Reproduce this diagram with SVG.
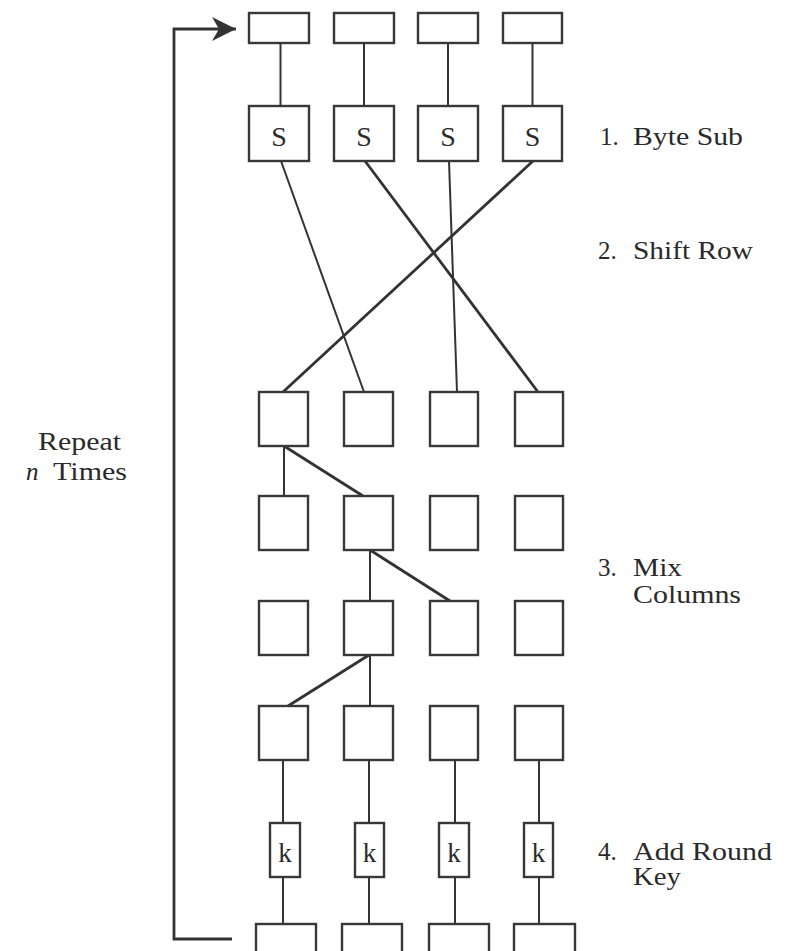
<svg xmlns="http://www.w3.org/2000/svg" width="788" height="951" viewBox="0 0 788 951">
<style>
.box{fill:#fff;stroke:#383838;stroke-width:2.4}
.ln{stroke:#333;stroke-width:2;fill:none}
.lt{stroke:#333;stroke-width:2.8;fill:none}
.lbl{font-family:"Liberation Serif","Times New Roman",serif;font-size:25px;fill:#2a2a2a}
.s{font-family:"Liberation Serif","Times New Roman",serif;font-size:28px;fill:#2a2a2a;text-anchor:middle}
.k{font-family:"Liberation Serif","Times New Roman",serif;font-size:27px;fill:#2a2a2a;text-anchor:middle}
</style>
<defs>
<marker id="arr" markerWidth="26" markerHeight="24" refX="24" refY="12" orient="auto" markerUnits="userSpaceOnUse">
<path d="M0,0 L24,12 L0,24 L7,12 Z" fill="#333"/>
</marker>
</defs>
<rect width="788" height="951" fill="#fff"/>

<g id="connectors">
<!-- loop back -->
<polyline class="lt" points="232,939 174,939 174,29 236,29" marker-end="url(#arr)"/>
<!-- top to S -->
<line class="ln" x1="280.5" y1="43" x2="280.5" y2="106"/>
<line class="ln" x1="364" y1="43" x2="364" y2="106"/>
<line class="ln" x1="448" y1="43" x2="448" y2="106"/>
<line class="ln" x1="532.5" y1="43" x2="532.5" y2="106"/>
<!-- shift row -->
<line class="ln" x1="281" y1="161" x2="364" y2="392"/>
<line class="lt" x1="365" y1="161" x2="538" y2="392"/>
<line class="ln" x1="449" y1="161" x2="457" y2="392"/>
<line class="lt" x1="533" y1="161" x2="283" y2="392"/>
<!-- mix columns -->
<line class="ln" x1="284" y1="446" x2="284" y2="496"/>
<line class="lt" x1="284" y1="446" x2="363" y2="496"/>
<line class="ln" x1="370" y1="550" x2="370" y2="601"/>
<line class="lt" x1="370" y1="550" x2="450" y2="601"/>
<line class="lt" x1="369" y1="655" x2="288" y2="706"/>
<line class="ln" x1="370" y1="655" x2="370" y2="706"/>
<!-- to k -->
<line class="ln" x1="283" y1="760" x2="283" y2="823"/>
<line class="ln" x1="369" y1="760" x2="369" y2="823"/>
<line class="ln" x1="455" y1="760" x2="455" y2="823"/>
<line class="ln" x1="539" y1="760" x2="539" y2="823"/>
<!-- k to bottom -->
<line class="ln" x1="283" y1="877" x2="283" y2="924"/>
<line class="ln" x1="369" y1="877" x2="369" y2="924"/>
<line class="ln" x1="455" y1="877" x2="455" y2="924"/>
<line class="ln" x1="539" y1="877" x2="539" y2="924"/>
</g>

<g id="top-row">
<rect id="t1" class="box" x="249" y="13" width="60" height="30"/>
<rect id="t2" class="box" x="334" y="13" width="60" height="30"/>
<rect id="t3" class="box" x="418" y="13" width="60" height="30"/>
<rect id="t4" class="box" x="503" y="13" width="59" height="30"/>
</g>

<g id="s-row">
<g id="s1"><rect class="box" x="249" y="106" width="60" height="55"/><text class="s" x="279" y="146">S</text></g>
<g id="s2"><rect class="box" x="334" y="106" width="60" height="55"/><text class="s" x="364" y="146">S</text></g>
<g id="s3"><rect class="box" x="418" y="106" width="60" height="55"/><text class="s" x="448" y="146">S</text></g>
<g id="s4"><rect class="box" x="503" y="106" width="59" height="55"/><text class="s" x="532.5" y="146">S</text></g>
</g>

<g id="row3">
<rect id="r3c1" class="box" x="259" y="392" width="49" height="54"/>
<rect id="r3c2" class="box" x="344" y="392" width="49" height="54"/>
<rect id="r3c3" class="box" x="430" y="392" width="48" height="54"/>
<rect id="r3c4" class="box" x="515" y="392" width="48" height="54"/>
</g>
<g id="row4">
<rect id="r4c1" class="box" x="259" y="496" width="49" height="54"/>
<rect id="r4c2" class="box" x="344" y="496" width="49" height="54"/>
<rect id="r4c3" class="box" x="430" y="496" width="48" height="54"/>
<rect id="r4c4" class="box" x="515" y="496" width="48" height="54"/>
</g>
<g id="row5">
<rect id="r5c1" class="box" x="259" y="601" width="49" height="54"/>
<rect id="r5c2" class="box" x="344" y="601" width="49" height="54"/>
<rect id="r5c3" class="box" x="430" y="601" width="48" height="54"/>
<rect id="r5c4" class="box" x="515" y="601" width="48" height="54"/>
</g>
<g id="row6">
<rect id="r6c1" class="box" x="259" y="706" width="49" height="54"/>
<rect id="r6c2" class="box" x="344" y="706" width="49" height="54"/>
<rect id="r6c3" class="box" x="430" y="706" width="48" height="54"/>
<rect id="r6c4" class="box" x="515" y="706" width="48" height="54"/>
</g>

<g id="k-row">
<g id="k1"><rect class="box" x="270" y="823" width="30" height="54"/><text class="k" x="285" y="862">k</text></g>
<g id="k2"><rect class="box" x="355" y="823" width="29" height="54"/><text class="k" x="369.5" y="862">k</text></g>
<g id="k3"><rect class="box" x="439" y="823" width="30" height="54"/><text class="k" x="454" y="862">k</text></g>
<g id="k4"><rect class="box" x="524" y="823" width="29" height="54"/><text class="k" x="538.5" y="862">k</text></g>
</g>

<g id="bottom-row">
<rect id="b1" class="box" x="256" y="924" width="60" height="40"/>
<rect id="b2" class="box" x="342" y="924" width="60" height="40"/>
<rect id="b3" class="box" x="429" y="924" width="60" height="40"/>
<rect id="b4" class="box" x="514" y="924" width="61" height="40"/>
</g>

<g id="labels">
<text class="lbl" x="600" y="145">1.</text>
<text class="lbl" x="633" y="145" textLength="110" lengthAdjust="spacingAndGlyphs">Byte Sub</text>
<text class="lbl" x="598" y="259">2.</text>
<text class="lbl" x="633" y="259" textLength="120" lengthAdjust="spacingAndGlyphs">Shift Row</text>
<text class="lbl" x="598" y="576">3.</text>
<text class="lbl" x="633" y="576" textLength="49" lengthAdjust="spacingAndGlyphs">Mix</text>
<text class="lbl" x="633" y="603" textLength="108" lengthAdjust="spacingAndGlyphs">Columns</text>
<text class="lbl" x="598" y="860">4.</text>
<text class="lbl" x="633" y="860" textLength="139" lengthAdjust="spacingAndGlyphs">Add Round</text>
<text class="lbl" x="633" y="885" textLength="48" lengthAdjust="spacingAndGlyphs">Key</text>
<text class="lbl" x="38" y="450" textLength="83" lengthAdjust="spacingAndGlyphs">Repeat</text>
<text class="lbl" x="26" y="480" font-style="italic">n</text>
<text class="lbl" x="53" y="480" textLength="74" lengthAdjust="spacingAndGlyphs">Times</text>
</g>
</svg>
